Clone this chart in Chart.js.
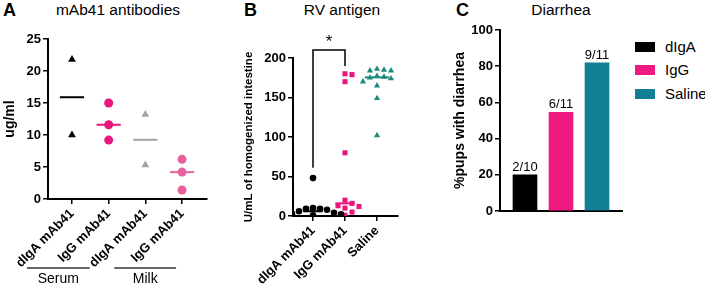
<!DOCTYPE html>
<html><head><meta charset="utf-8">
<script src="https://cdn.jsdelivr.net/npm/chart.js@4/dist/chart.umd.min.js"></script>
<style>
body{margin:0;background:#fff;}
#wrap{position:relative;width:705px;height:285px;overflow:hidden;font-family:"Liberation Sans",Arial,sans-serif;color:#000;}
canvas{position:absolute;top:0;}
.let{position:absolute;top:0px;font-weight:bold;font-size:18px;line-height:20px;}
.ttl{position:absolute;top:1px;font-size:15.5px;line-height:18px;transform:translateX(-50%);white-space:nowrap;}
.leg{position:absolute;left:635px;font-size:15px;line-height:16px;white-space:nowrap;}
.leg span.sw{display:inline-block;width:20px;height:10px;margin-right:10px;vertical-align:0px;}
</style></head><body>
<div id="wrap">
  <div class="let" style="left:3px">A</div>
  <div class="let" style="left:244px">B</div>
  <div class="let" style="left:456px">C</div>
  <div class="ttl" style="left:118px">mAb41 antibodies</div>
  <div class="ttl" style="left:342px">RV antigen</div>
  <div class="ttl" style="left:561px">Diarrhea</div>
  <canvas id="ca" width="240" height="285" style="left:0px"></canvas>
  <canvas id="cb" width="220" height="285" style="left:240px"></canvas>
  <canvas id="cc" width="175" height="285" style="left:450px"></canvas>
  <div id="legend"></div>
</div>
<script>
// ---------- Panel A data ----------
const aCategories = ['dIgA mAb41', 'IgG mAb41', 'dIgA mAb41', 'IgG mAb41'];
const aGroups = ['Serum', 'Milk'];
const aSerumDIgA = [21.8, 10.0];
const aSerumIgG = [15.0, 11.6, 9.2];
const aMilkDIgA = [13.2, 5.3];
const aMilkIgG = [6.2, 4.2, 1.4];
const aTicks = [0, 5, 10, 15, 20, 25];

// ---------- Panel B data ----------
const bCategories = ['dIgA mAb41', 'IgG mAb41', 'Saline'];
const bDIgA = [48, 10, 9, 9, 8, 6, 4, 3, 2, 2, 1];
const bIgG = [180, 179, 170, 80, 20, 16, 13, 12, 10, 5, 1];
const bSaline = [186, 185, 184, 184, 177, 176, 175, 174, 170, 165, 149, 102];
const bTicks = [0, 50, 100, 150, 200];

// ---------- Panel C data ----------
const cCategories = ['dIgA', 'IgG', 'Saline'];
const cAffected = [2, 6, 9];
const cTotal = [10, 11, 11];
const cTicks = [0, 20, 40, 60, 80, 100];

const F = '"Liberation Sans", Arial, sans-serif';
const BLACK = '#000000', PINK = '#e8177b', PINK2 = '#e8619c', GREY = '#a3a3a3', TEAL = '#1d8a7e', TEALC = '#137f95';

function median(arr){
  const s = [...arr].sort((a,b)=>a-b); const n = s.length;
  return n % 2 ? s[(n-1)/2] : (s[n/2-1] + s[n/2]) / 2;
}
// deterministic beeswarm offsets (in category units)
function swarm(values, pxPerY, pxPerX, diam){
  const placed = [], out = [];
  const order = values.map((v,i)=>i).sort((a,b)=>values[b]-values[a]);
  for (const i of order){
    const py = values[i]*pxPerY; let off = 0;
    for (let n=0; n<60; n++){
      off = n===0 ? 0 : Math.ceil(n/2)*(n%2 ? 1 : -1)*diam*0.5;
      if (placed.every(p => Math.hypot(p.px-off, p.py-py) >= diam)) break;
    }
    placed.push({px:off, py}); out[i] = off/pxPerX;
  }
  return out;
}
function pts(values, cat, pxPerY, pxPerX, diam){
  const off = swarm(values, pxPerY, pxPerX, diam);
  return values.map((v,i)=>({x: cat + off[i], y: v}));
}
function medLine(values, cat, half, color){
  const m = median(values);
  return {data:[{x:cat-half,y:m},{x:cat+half,y:m}], showLine:true, borderColor:color, borderWidth:2, pointRadius:0, order:5};
}
function yAxis(ticks, title, titleSize, width){
  return {type:'linear', min:ticks[0], max:ticks[ticks.length-1],
    afterBuildTicks(s){ s.ticks = ticks.map(v=>({value:v})); },
    ticks:{color:'#000', font:{family:F,size:13,weight:'bold'}, padding:2},
    grid:{drawOnChartArea:false, drawTicks:true, tickLength:5, color:'#000', lineWidth:1.5},
    border:{color:'#000', width:2},
    title:{display:true, text:title, color:'#000', font:{family:F,size:titleSize,weight:'bold'}, padding:{top:2,bottom:0}},
    afterFit(s){ s.width = width; }};
}
function xCatAxis(cats, min, max, height){
  return {type:'linear', min, max, offset:false,
    afterBuildTicks(s){ s.ticks = cats.map((c,i)=>({value:i+1})); },
    ticks:{color:'#000', font:{family:F,size:13,weight:'bold'}, minRotation:45, maxRotation:45, autoSkip:false, padding:2,
      callback:(v)=>cats[v-1]},
    grid:{drawOnChartArea:false, drawTicks:true, tickLength:5, color:'#000', lineWidth:1.5},
    border:{color:'#000', width:2},
    afterFit(s){ s.height = height; }};
}
const common = {responsive:false, animation:false, devicePixelRatio:1,
  plugins:{legend:{display:false}, tooltip:{enabled:false}}};

// ---------- Chart A ----------
const aPxY = 160/25, aPxX = 36.7;
const groupPlugin = {id:'groups', afterDraw(chart){
  const ctx = chart.ctx, xs = chart.scales.x;
  const spans = [[1,2,-45,-19],[3,4,-31,-6]];
  ctx.save(); ctx.strokeStyle = '#333'; ctx.lineWidth = 1.5;
  ctx.fillStyle = '#000'; ctx.font = '14px ' + F; ctx.textAlign = 'center'; ctx.textBaseline = 'middle';
  spans.forEach((s,i)=>{
    const x1 = xs.getPixelForValue(s[0]) + s[2], x2 = xs.getPixelForValue(s[1]) + s[3];
    ctx.beginPath(); ctx.moveTo(x1, 268); ctx.lineTo(x2, 268); ctx.stroke();
    ctx.fillText(aGroups[i], (x1+x2)/2, 279);
  });
  ctx.restore();
}};
new Chart(document.getElementById('ca'), {
  type:'scatter',
  data:{datasets:[
    {data:pts(aSerumDIgA,1,aPxY,aPxX,9), pointStyle:'triangle', pointRadius:4.5, backgroundColor:BLACK, borderColor:BLACK, borderWidth:0},
    medLine(aSerumDIgA,1,0.33,BLACK),
    {data:pts(aSerumIgG,2,aPxY,aPxX,9), pointStyle:'circle', pointRadius:4.5, backgroundColor:PINK, borderColor:PINK, borderWidth:0},
    medLine(aSerumIgG,2,0.33,PINK),
    {data:pts(aMilkDIgA,3,aPxY,aPxX,9), pointStyle:'triangle', pointRadius:4.5, backgroundColor:GREY, borderColor:GREY, borderWidth:0},
    medLine(aMilkDIgA,3,0.33,GREY),
    {data:pts(aMilkIgG,4,aPxY,aPxX,9), pointStyle:'circle', pointRadius:4.5, backgroundColor:PINK2, borderColor:PINK2, borderWidth:0},
    medLine(aMilkIgG,4,0.33,PINK2)
  ]},
  options:{...common,
    layout:{padding:{top:39,left:0,right:33,bottom:0}},
    scales:{x:xCatAxis(aCategories,0.346,4.68,86), y:yAxis(aTicks,'ug/ml',14,48)}},
  plugins:[groupPlugin]
});

// ---------- Chart B ----------
const bPxY = 158/200, bPxX = 32;
const sigPlugin = {id:'sig', afterDraw(chart){
  const ctx = chart.ctx, xs = chart.scales.x, ys = chart.scales.y;
  const x1 = xs.getPixelForValue(1), x2 = xs.getPixelForValue(2);
  const yt = ys.getPixelForValue(210);
  ctx.save(); ctx.strokeStyle = '#000'; ctx.lineWidth = 1.5;
  ctx.beginPath(); ctx.moveTo(x1, ys.getPixelForValue(61)); ctx.lineTo(x1, yt); ctx.lineTo(x2, yt); ctx.lineTo(x2, ys.getPixelForValue(190)); ctx.stroke();
  ctx.fillStyle = '#000'; ctx.font = '17px ' + F; ctx.textAlign = 'center'; ctx.textBaseline = 'middle';
  ctx.fillText('*', (x1+x2)/2, yt - 8);
  ctx.restore();
}};
new Chart(document.getElementById('cb'), {
  type:'scatter',
  data:{datasets:[
    {data:pts(bDIgA,1,bPxY,bPxX,7), pointStyle:'circle', pointRadius:3.3, backgroundColor:BLACK, borderWidth:0},
    medLine(bDIgA,1,0.3,BLACK),
    {data:pts(bIgG,2,bPxY,bPxX,7), pointStyle:'rect', pointRadius:3.6, backgroundColor:PINK, borderWidth:0},
    medLine(bIgG,2,0.3,PINK),
    {data:pts(bSaline,3,bPxY,bPxX,7), pointStyle:'triangle', pointRadius:3.6, backgroundColor:TEAL, borderWidth:0},
    medLine(bSaline,3,0.38,TEAL)
  ]},
  options:{...common,
    layout:{padding:{top:58,left:0,right:62,bottom:0}},
    scales:{x:xCatAxis(bCategories,0.375,3.656,69), y:yAxis(bTicks,'U/mL of homogenized intestine',11.5,53)}},
  plugins:[sigPlugin]
});

// ---------- Chart C ----------
const cPct = cAffected.map((a,i)=>a/cTotal[i]*100);
const cColors = [BLACK, '#ee1a80', TEALC];
const barLabelPlugin = {id:'barlabels', afterDatasetsDraw(chart){
  const ctx = chart.ctx, meta = chart.getDatasetMeta(0);
  ctx.save(); ctx.fillStyle = '#000'; ctx.font = '13px ' + F; ctx.textAlign = 'center'; ctx.textBaseline = 'bottom';
  meta.data.forEach((el,i)=>{ ctx.fillText(cAffected[i] + '/' + cTotal[i], el.x, el.y - 1); });
  ctx.restore();
}};
new Chart(document.getElementById('cc'), {
  type:'bar',
  data:{datasets:[{data:cPct.map((v,i)=>({x:i+1,y:v})), backgroundColor:cColors, barThickness:24, borderWidth:0}]},
  options:{...common,
    layout:{padding:{top:30,left:0,right:3,bottom:0}},
    scales:{
      x:{type:'linear', min:0.306, max:3.694, offset:false, ticks:{display:false}, grid:{display:false, offset:false},
         border:{color:'#000', width:2}, afterFit(s){ s.height = 74; }},
      y:yAxis(cTicks,'%pups with diarrhea',14,50)
    }},
  plugins:[barLabelPlugin]
});
// legend
const leg = document.getElementById('legend');
const legY = [39, 62, 86];
cCategories.forEach((c,i)=>{
  const d = document.createElement('div'); d.className = 'leg'; d.style.top = legY[i] + 'px';
  d.innerHTML = '<span class="sw" style="background:' + cColors[i] + '"></span>' + c;
  leg.appendChild(d);
});
</script>
</body></html>
